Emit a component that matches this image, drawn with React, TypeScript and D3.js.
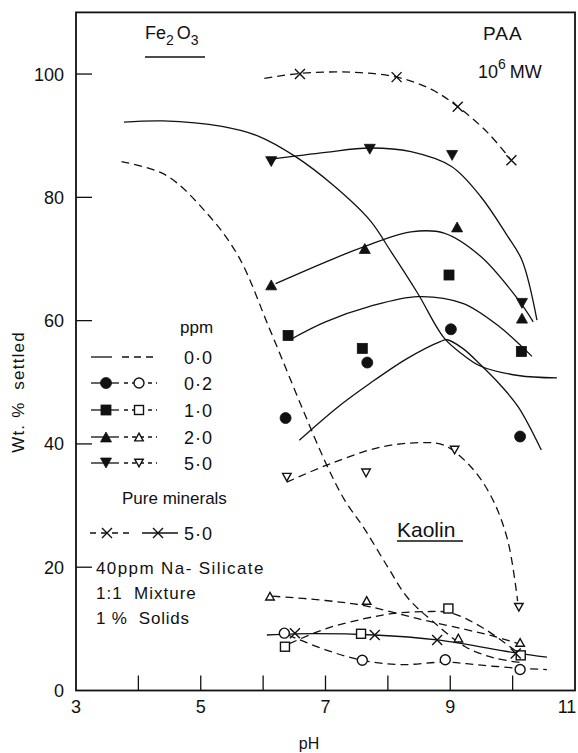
import React from "react";
import * as d3 from "d3";

const W = 578;
const H = 753;

const xTicks = [4, 5, 6, 7, 8, 9, 10];
const xTickLabels = [3, 5, 7, 9, 11];
const yTicks = [20, 40, 60, 80, 100];
const yTickLabels = [0, 20, 40, 60, 80, 100];

// Fe2O3 curves (solid)
const feCurve00 = [[3.77, 92.2], [4.4, 92.4], [5.34, 91.5], [5.93, 89.9], [6.52, 86.6], [7.12, 82], [7.71, 76.3], [8.05, 71.2], [8.48, 64.4], [8.9, 57.2], [9.2, 54.5], [9.49, 52.6], [10.09, 51.1], [10.71, 50.7]];
const feCurve02 = [[6.58, 40.6], [7.2, 46], [7.71, 49.8], [8.3, 53.8], [8.84, 56.6], [8.95, 56.9], [9.2, 55.5], [9.49, 52.8], [9.8, 49.6], [10.09, 46], [10.46, 39]];
const feCurve10 = [[6.43, 56.9], [7.0, 59.8], [7.71, 62.3], [8.48, 63.9], [9.2, 62.8], [9.79, 59], [10.31, 54.2]];
const feCurve20 = [[6.2, 66], [7.0, 69.5], [7.62, 72], [8.37, 74.4], [8.9, 74.2], [9.49, 70.4], [10.09, 63.4], [10.33, 59.8]];
const feCurve50 = [[6.14, 86.2], [7.0, 87.3], [7.71, 88], [8.37, 87.4], [9.02, 85], [9.49, 80.1], [9.9, 74], [10.15, 69.8], [10.39, 60.1]];
const pureFeCurve = [[6.02, 99.3], [6.59, 100.1], [7.4, 100.3], [8.14, 99.5], [8.7, 97.5], [9.12, 94.7], [9.6, 90.5], [9.98, 86]];

// Fe2O3 points (filled)
const fePts02 = [[6.36, 44.2], [7.67, 53.2], [9.01, 58.6], [10.12, 41.2]];
const fePts10 = [[6.4, 57.6], [7.59, 55.5], [8.98, 67.4], [10.14, 55]];
const fePts20 = [[6.13, 65.8], [7.63, 71.7], [9.11, 75.2], [10.15, 60.4]];
const fePts50 = [[6.13, 85.8], [7.71, 87.8], [9.03, 86.8], [10.15, 62.8]];
const pureFePts = [[6.59, 100], [8.14, 99.5], [9.12, 94.7], [9.98, 86]];

// Kaolin curves (dashed)
const kaoCurve00 = [[3.73, 85.8], [4.44, 83.6], [5.1, 77.4], [5.6, 70.5], [6.11, 58.5], [6.64, 45.5], [7.0, 37], [7.3, 31], [7.62, 26.3], [8.0, 20], [8.32, 15], [8.7, 11.4], [9.24, 7.1], [9.7, 5.3], [10.15, 4.5]];
const kaoCurve02 = [[6.4, 9.0], [7.0, 6.6], [7.59, 4.9], [8.2, 4.2], [8.92, 4.6], [9.5, 4.1], [10.12, 3.6], [10.55, 3.4]];
const kaoCurve10 = [[6.42, 7.6], [7.0, 10], [7.6, 11.6], [8.1, 12.5], [8.6, 12.8], [9.0, 12.6], [9.5, 10.3], [10.13, 5.8]];
const kaoCurve20 = [[6.15, 15.3], [7.0, 14.6], [7.66, 13.7], [8.5, 11.6], [9.2, 10], [9.7, 8.8], [10.12, 7.5]];
const kaoCurve50 = [[6.38, 33.8], [7.08, 36.8], [7.89, 39.5], [8.53, 40.2], [8.9, 39.8], [9.33, 36.3], [9.66, 31.4], [9.92, 24.4], [10.08, 14.5]];
const pureKaoCurve = [[6.06, 9.0], [6.51, 9.2], [7.79, 9.0], [8.79, 8.2], [10.05, 6.1], [10.55, 5.4]];

// Kaolin points (open)
const kaoPts02 = [[6.34, 9.3], [7.59, 4.9], [8.92, 5.0], [10.12, 3.4]];
const kaoPts10 = [[6.35, 7.1], [7.57, 9.2], [8.97, 13.3], [10.13, 5.7]];
const kaoPts20 = [[6.11, 15.3], [7.66, 14.6], [9.13, 8.5], [10.12, 7.8]];
const kaoPts50 = [[6.38, 34.6], [7.65, 35.3], [9.07, 39], [10.1, 13.5]];
const pureKaoPts = [[6.51, 9.3], [7.79, 9.0], [8.79, 8.2], [10.05, 6.0]];

const legendLabels = ["0·0", "0·2", "1·0", "2·0", "5·0"];
const legendShapes = [null, "circle", "square", "triUp", "triDown"];

const FONT = "'Liberation Sans', Arial, sans-serif";
const INK = "#111";

function Marker({ shape, x, y, filled }: { shape: string; x: number; y: number; filled: boolean }) {
  const fill = filled ? INK : "#fff";
  const sw = filled ? 0.8 : 1.4;
  if (shape === "circle") {
    const r = filled ? 5.5 : 5;
    return <circle cx={x} cy={y} r={r} fill={fill} stroke={INK} strokeWidth={sw} />;
  }
  if (shape === "square") {
    const s = filled ? 10 : 9;
    return <rect x={x - s / 2} y={y - s / 2} width={s} height={s} fill={fill} stroke={INK} strokeWidth={sw} />;
  }
  if (shape === "triUp") {
    const s = filled ? 11 : 8.5;
    const h = s * 0.9;
    return <path d={`M${x},${y - h / 2}L${x + s / 2},${y + h / 2}L${x - s / 2},${y + h / 2}Z`} fill={fill} stroke={INK} strokeWidth={sw} />;
  }
  if (shape === "triDown") {
    const s = filled ? 11 : 8.5;
    const h = s * 0.9;
    return <path d={`M${x - s / 2},${y - h / 2}L${x + s / 2},${y - h / 2}L${x},${y + h / 2}Z`} fill={fill} stroke={INK} strokeWidth={sw} />;
  }
  if (shape === "cross") {
    const a = 5;
    return <path d={`M${x - a},${y - a}L${x + a},${y + a}M${x + a},${y - a}L${x - a},${y + a}`} stroke={INK} strokeWidth={1.4} fill="none" />;
  }
  return null;
}

export default function App() {
  const x = d3.scaleLinear().domain([3, 11]).range([76, 575]);
  const y = d3.scaleLinear().domain([0, 110]).range([690.5, 12.4]);
  const line = d3
    .line<number[]>()
    .x((d) => x(d[0]))
    .y((d) => y(d[1]))
    .curve(d3.curveCatmullRom.alpha(0.5));

  const dash = "8 5";
  const solidCurves = [feCurve00, feCurve02, feCurve10, feCurve20, feCurve50, pureKaoCurve];
  const dashedCurves = [kaoCurve00, kaoCurve02, kaoCurve10, kaoCurve20, kaoCurve50, pureFeCurve];

  const filledSets: [number[][], string][] = [
    [fePts02, "circle"],
    [fePts10, "square"],
    [fePts20, "triUp"],
    [fePts50, "triDown"],
  ];
  const openSets: [number[][], string][] = [
    [kaoPts02, "circle"],
    [kaoPts10, "square"],
    [kaoPts20, "triUp"],
    [kaoPts50, "triDown"],
  ];

  const legendY = [357, 383, 410, 437, 463];

  return (
    <svg
      width={W}
      height={H}
      viewBox={`0 0 ${W} ${H}`}
      style={{ position: "absolute", left: 0, top: 0, background: "#fff" }}
      fontFamily={FONT}
    >
      <rect x={0} y={0} width={W} height={H} fill="#fff" />
      {/* frame */}
      <rect x={x(3)} y={y(110)} width={x(11) - x(3)} height={y(0) - y(110)} fill="none" stroke={INK} strokeWidth={1.8} />
      {/* ticks */}
      {xTicks.map((t) => (
        <line key={"xt" + t} x1={x(t)} x2={x(t)} y1={y(0)} y2={y(0) - 15} stroke={INK} strokeWidth={1.3} />
      ))}
      {yTicks.map((t) => (
        <line key={"yt" + t} x1={x(3)} x2={x(3) + 16} y1={y(t)} y2={y(t)} stroke={INK} strokeWidth={1.3} />
      ))}
      {xTickLabels.map((t) => (
        <text key={"xl" + t} x={t === 11 ? 567 : x(t)} y={y(0) + 22} fontSize={18} textAnchor="middle" fill={INK}>
          {t}
        </text>
      ))}
      {yTickLabels.map((t) => (
        <text key={"yl" + t} x={64} y={y(t) + 6.5} fontSize={18} textAnchor="end" fill={INK}>
          {t}
        </text>
      ))}
      <text x={309} y={749} fontSize={16} textAnchor="middle" fill={INK}>pH</text>
      <text
        transform={`translate(24,392) rotate(-90)`}
        fontSize={17}
        textAnchor="middle"
        fill={INK}
        letterSpacing={1.2}
        style={{ whiteSpace: "pre" }}
      >
        {"Wt. %  settled"}
      </text>

      {/* curves */}
      {solidCurves.map((c, i) => (
        <path key={"sc" + i} d={line(c) || ""} fill="none" stroke={INK} strokeWidth={1.3} />
      ))}
      {dashedCurves.map((c, i) => (
        <path key={"dc" + i} d={line(c) || ""} fill="none" stroke={INK} strokeWidth={1.3} strokeDasharray={dash} />
      ))}

      {/* points */}
      {filledSets.map(([pts, shape], i) =>
        pts.map((p, j) => <Marker key={`f${i}-${j}`} shape={shape} x={x(p[0])} y={y(p[1])} filled={true} />)
      )}
      {openSets.map(([pts, shape], i) =>
        pts.map((p, j) => <Marker key={`o${i}-${j}`} shape={shape} x={x(p[0])} y={y(p[1])} filled={false} />)
      )}
      {pureFePts.map((p, j) => (
        <Marker key={`pf${j}`} shape="cross" x={x(p[0])} y={y(p[1])} filled={false} />
      ))}
      {pureKaoPts.map((p, j) => (
        <Marker key={`pk${j}`} shape="cross" x={x(p[0])} y={y(p[1])} filled={false} />
      ))}

      {/* titles */}
      <text x={145} y={39} fontSize={18} fill={INK}>
        Fe
        <tspan dy={6} fontSize={14}>2</tspan>
        <tspan dy={-6} dx={3}>O</tspan>
        <tspan dy={6} fontSize={14}>3</tspan>
      </text>
      <line x1={145} x2={205} y1={57} y2={57} stroke={INK} strokeWidth={1.5} />
      <text x={483} y={40} fontSize={19} fill={INK} letterSpacing={1}>PAA</text>
      <text x={478} y={78} fontSize={18} fill={INK}>
        10
        <tspan dy={-9} fontSize={14}>6</tspan>
        <tspan dy={9} dx={4}>MW</tspan>
      </text>
      <text x={397} y={537} fontSize={21} fill={INK}>Kaolin</text>
      <line x1={397} x2={463} y1={541} y2={541} stroke={INK} strokeWidth={1.5} />

      {/* legend */}
      <text x={180} y={333} fontSize={17} fill={INK}>ppm</text>
      {legendLabels.map((lab, i) => {
        const ly = legendY[i];
        const shape = legendShapes[i];
        return (
          <g key={"lg" + i}>
            <line x1={91} x2={shape ? 119 : 112} y1={ly} y2={ly} stroke={INK} strokeWidth={1.3} />
            <line x1={shape ? 124 : 122} x2={157} y1={ly} y2={ly} stroke={INK} strokeWidth={1.3} strokeDasharray={shape ? "4 4" : "7 5"} />
            {shape && <Marker shape={shape} x={106} y={ly} filled={true} />}
            {shape && <Marker shape={shape} x={139} y={ly} filled={false} />}
            <text x={184} y={ly + 6.5} fontSize={18} fill={INK} letterSpacing={1}>{lab}</text>
          </g>
        );
      })}
      <text x={122} y={504} fontSize={17} fill={INK}>Pure minerals</text>
      <line x1={90} x2={129} y1={533} y2={533} stroke={INK} strokeWidth={1.3} strokeDasharray="6 5" />
      <Marker shape="cross" x={107} y={533} filled={false} />
      <line x1={142} x2={178} y1={533} y2={533} stroke={INK} strokeWidth={1.3} />
      <Marker shape="cross" x={158} y={533} filled={false} />
      <text x={184} y={539.5} fontSize={18} fill={INK} letterSpacing={1}>5·0</text>
      <text x={96} y={574} fontSize={17} fill={INK} letterSpacing={1.4} style={{ whiteSpace: "pre" }}>{"40ppm Na- Silicate"}</text>
      <text x={96} y={599} fontSize={17} fill={INK} letterSpacing={1} style={{ whiteSpace: "pre" }}>{"1:1  Mixture"}</text>
      <text x={96} y={624} fontSize={17} fill={INK} letterSpacing={0.8} style={{ whiteSpace: "pre" }}>{"1 %  Solids"}</text>
    </svg>
  );
}
